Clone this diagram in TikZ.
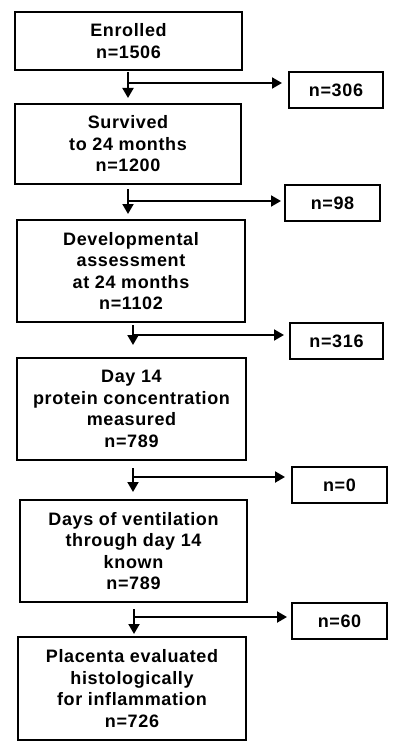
\documentclass[tikz,border=0pt]{standalone}
\usepackage{fontspec}
\setmainfont{Liberation Sans}[LetterSpace=3.5]
\usetikzlibrary{arrows.meta}
\begin{document}
\begin{tikzpicture}[x=1pt,y=-1pt,
  box/.style={draw,line width=2pt,inner sep=0pt,align=center,
    font=\fontsize{18}{21.5}\selectfont\bfseries},
  arr/.style={line width=2pt,-{Triangle[length=10pt,width=11pt]}}]
\useasboundingbox (0,0) rectangle (400,746);
\node[box,minimum width=227pt,minimum height=58pt] (B1) at (128.5,41) {Enrolled\\n=1506};
\node[box,minimum width=94pt,minimum height=36pt] (S1) at (336,90) {n=306};
\node[box,minimum width=226pt,minimum height=80pt] (B2) at (128,144) {Survived\\to 24 months\\n=1200};
\node[box,minimum width=95pt,minimum height=36pt] (S2) at (332.5,203) {n=98};
\node[box,minimum width=228pt,minimum height=102pt] (B3) at (131,271) {Developmental\\assessment\\at 24 months\\n=1102};
\node[box,minimum width=93pt,minimum height=36pt] (S3) at (336.5,341) {n=316};
\node[box,minimum width=229pt,minimum height=102pt] (B4) at (131.5,409) {Day 14\\protein concentration\\measured\\n=789};
\node[box,minimum width=95pt,minimum height=36pt] (S4) at (339.5,485) {n=0};
\node[box,minimum width=227pt,minimum height=102pt] (B5) at (133.5,551) {Days of ventilation\\through day 14\\known\\n=789};
\node[box,minimum width=95pt,minimum height=36pt] (S5) at (339.5,621) {n=60};
\node[box,minimum width=228pt,minimum height=103pt] (B6) at (132,688.5) {Placenta evaluated\\histologically\\for inflammation\\n=726};
\coordinate (a1) at (128,83);
\coordinate (a2) at (128,201);
\coordinate (a3) at (133,335);
\coordinate (a4) at (133,477);
\coordinate (a5) at (134,617);
\draw[arr,shorten <=1pt,shorten >=5pt] (B1.south -| a1) -- (B2.north -| a1);
\draw[arr,shorten <=4pt,shorten >=5pt] (B2.south -| a2) -- (B3.north -| a2);
\draw[arr,shorten <=2pt,shorten >=12pt] (B3.south -| a3) -- (B4.north -| a3);
\draw[arr,shorten <=7pt,shorten >=7pt] (B4.south -| a4) -- (B5.north -| a4);
\draw[arr,shorten <=6pt,shorten >=2pt] (B5.south -| a5) -- (B6.north -| a5);
\draw[arr,shorten >=6pt] (a1) -- (a1 -| S1.west);
\draw[arr,shorten >=3pt] (a2) -- (a2 -| S2.west);
\draw[arr,shorten >=5pt] (a3) -- (a3 -| S3.west);
\draw[arr,shorten >=6pt] (a4) -- (a4 -| S4.west);
\draw[arr,shorten >=4pt] (a5) -- (a5 -| S5.west);
\end{tikzpicture}
\end{document}
